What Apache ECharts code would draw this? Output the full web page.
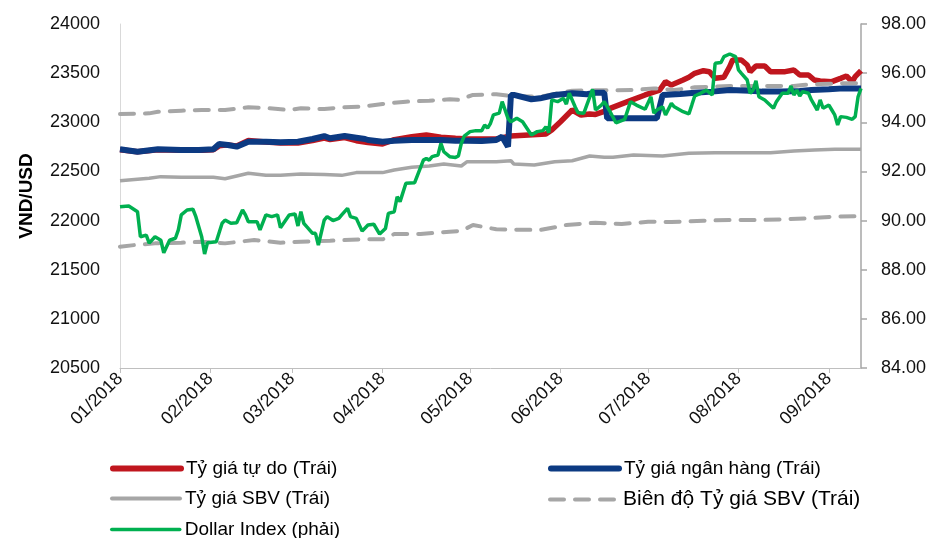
<!DOCTYPE html>
<html>
<head>
<meta charset="utf-8">
<script src="https://cdn.jsdelivr.net/npm/echarts@6/dist/echarts.min.js"></script>
<style>
  html, body { margin: 0; padding: 0; background: #ffffff; }
  #chart { width: 940px; height: 538px; }
</style>
</head>
<body>
<div id="chart"></div>
<script>
// Month starts used for the x-axis ticks and labels
const monthTicks = ['2018-01-01','2018-02-01','2018-03-01','2018-04-01','2018-05-01',
                    '2018-06-01','2018-07-01','2018-08-01','2018-09-01'];
const leftTicks = [20500, 21000, 21500, 22000, 22500, 23000, 23500, 24000];
const rightTicks = [84, 86, 88, 90, 92, 94, 96, 98];

// Free-market USD/VND rate
const freeRate = [
  ['2018-01-01',22720],['2018-01-07',22700],['2018-01-14',22720],['2018-01-22',22715],
  ['2018-01-29',22715],['2018-02-02',22720],['2018-02-04',22760],['2018-02-07',22770],
  ['2018-02-10',22760],['2018-02-14',22815],['2018-02-20',22800],['2018-02-25',22790],
  ['2018-03-03',22790],['2018-03-08',22815],['2018-03-12',22840],['2018-03-14',22825],
  ['2018-03-19',22845],['2018-03-23',22813],['2018-03-27',22793],['2018-04-01',22780],
  ['2018-04-05',22823],['2018-04-11',22853],['2018-04-16',22870],['2018-04-21',22847],
  ['2018-04-26',22837],['2018-04-30',22830],['2018-05-05',22830],['2018-05-10',22830],
  ['2018-05-15',22860],['2018-05-21',22871],['2018-05-27',22881],['2018-05-29',22921],
  ['2018-06-01',23006],['2018-06-05',23125],['2018-06-08',23074],['2018-06-11',23085],
  ['2018-06-13',23080],['2018-06-16',23110],['2018-06-18',23142],['2018-06-24',23210],
  ['2018-06-30',23278],['2018-07-05',23328],['2018-07-07',23413],['2018-07-09',23379],
  ['2018-07-13',23430],['2018-07-15',23458],['2018-07-17',23498],['2018-07-20',23525],
  ['2018-07-22',23515],['2018-07-24',23447],['2018-07-27',23458],['2018-07-29',23566],
  ['2018-07-30',23634],['2018-08-02',23634],['2018-08-04',23583],['2018-08-05',23515],
  ['2018-08-07',23573],['2018-08-10',23573],['2018-08-12',23515],['2018-08-14',23515],
  ['2018-08-17',23515],['2018-08-20',23532],['2018-08-22',23481],['2018-08-25',23481],
  ['2018-08-27',23430],['2018-08-29',23420],['2018-09-02',23413],['2018-09-05',23447],
  ['2018-09-07',23471],['2018-09-09',23413],['2018-09-10',23464],['2018-09-12',23525]
];

// Commercial bank rate
const bankRate = [
  ['2018-01-01',22725],['2018-01-07',22700],['2018-01-14',22725],['2018-01-22',22718],
  ['2018-01-28',22718],['2018-02-02',22725],['2018-02-04',22779],['2018-02-07',22769],
  ['2018-02-10',22752],['2018-02-14',22802],['2018-02-20',22802],['2018-02-25',22796],
  ['2018-03-03',22802],['2018-03-08',22830],['2018-03-12',22860],['2018-03-14',22837],
  ['2018-03-19',22860],['2018-03-23',22843],['2018-03-26',22830],['2018-03-27',22820],
  ['2018-04-01',22802],['2018-04-05',22813],['2018-04-11',22820],['2018-04-16',22820],
  ['2018-04-21',22820],['2018-04-26',22813],['2018-04-30',22813],['2018-05-05',22810],
  ['2018-05-10',22820],['2018-05-12',22853],['2018-05-13',22802],['2018-05-14',22752],
  ['2018-05-15',23278],['2018-05-16',23278],['2018-05-22',23234],['2018-05-25',23244],
  ['2018-05-30',23278],['2018-06-05',23295],['2018-06-10',23285],['2018-06-13',23300],
  ['2018-06-16',23300],['2018-06-17',23040],['2018-06-22',23040],['2018-06-30',23040],
  ['2018-07-04',23040],['2018-07-06',23278],['2018-07-12',23288],['2018-07-17',23301],
  ['2018-07-23',23312],['2018-07-29',23328],['2018-08-05',23320],['2018-08-09',23312],
  ['2018-08-16',23312],['2018-08-22',23318],['2018-08-26',23328],['2018-09-01',23335],
  ['2018-09-06',23345],['2018-09-12',23345]
];

// State Bank of Vietnam central rate
const sbvRate = [
  ['2018-01-01',22406],['2018-01-11',22430],['2018-01-15',22447],['2018-01-22',22440],
  ['2018-02-02',22440],['2018-02-06',22425],['2018-02-14',22481],['2018-02-20',22460],
  ['2018-02-25',22460],['2018-03-04',22474],['2018-03-12',22468],['2018-03-18',22460],
  ['2018-03-23',22488],['2018-04-01',22488],['2018-04-05',22514],['2018-04-11',22542],
  ['2018-04-17',22555],['2018-04-22',22576],['2018-04-28',22555],['2018-04-30',22599],
  ['2018-05-10',22599],['2018-05-15',22609],['2018-05-16',22576],['2018-05-23',22565],
  ['2018-05-30',22599],['2018-06-05',22609],['2018-06-11',22657],['2018-06-16',22644],
  ['2018-06-19',22644],['2018-06-26',22667],['2018-07-06',22657],['2018-07-15',22684],
  ['2018-07-24',22691],['2018-08-02',22691],['2018-08-12',22691],['2018-08-20',22708],
  ['2018-08-27',22718],['2018-09-03',22725],['2018-09-12',22725]
];

// Upper edge of the SBV trading band
const bandUpper = [
  ['2018-01-01',23084],['2018-01-11',23091],['2018-01-14',23108],['2018-01-22',23118],
  ['2018-01-29',23125],['2018-02-06',23125],['2018-02-14',23152],['2018-02-20',23145],
  ['2018-02-28',23125],['2018-03-04',23142],['2018-03-12',23135],['2018-03-18',23152],
  ['2018-03-25',23159],['2018-04-01',23186],['2018-04-09',23210],['2018-04-17',23220],
  ['2018-04-24',23234],['2018-04-27',23228],['2018-05-02',23278],['2018-05-10',23285],
  ['2018-05-15',23267],['2018-05-25',23261],['2018-05-30',23288],['2018-06-05',23322],
  ['2018-06-13',23325],['2018-06-26',23328],['2018-07-03',23345],['2018-07-10',23328],
  ['2018-07-17',23356],['2018-07-29',23369],['2018-08-20',23369],['2018-08-23',23379],
  ['2018-08-29',23390],['2018-09-05',23396],['2018-09-12',23396]
];

// Lower edge of the SBV trading band
const bandLower = [
  ['2018-01-01',21734],['2018-01-06',21751],['2018-01-13',21768],['2018-01-22',21775],
  ['2018-01-29',21785],['2018-02-06',21768],['2018-02-16',21802],['2018-02-25',21775],
  ['2018-03-04',21785],['2018-03-14',21795],['2018-03-25',21809],['2018-04-01',21809],
  ['2018-04-05',21863],['2018-04-14',21863],['2018-04-24',21887],['2018-04-28',21895],
  ['2018-05-02',21955],['2018-05-10',21911],['2018-05-25',21904],['2018-06-03',21955],
  ['2018-06-13',21978],['2018-06-22',21965],['2018-07-01',21988],['2018-07-09',21985],
  ['2018-07-20',21999],['2018-07-29',22006],['2018-08-09',22006],['2018-08-16',22013],
  ['2018-08-25',22023],['2018-09-03',22040],['2018-09-12',22046]
];

// US Dollar Index (right axis)
const dollarIndex = [
  ['2018-01-01',90.56],['2018-01-04',90.59],['2018-01-07',90.36],['2018-01-08',89.34],
  ['2018-01-10',89.41],['2018-01-11',89.08],['2018-01-13',89.34],['2018-01-15',89.20],
  ['2018-01-16',88.69],['2018-01-18',89.20],['2018-01-20',89.28],['2018-01-21',89.62],
  ['2018-01-22',90.23],['2018-01-24',90.43],['2018-01-26',90.46],['2018-01-27',90.16],
  ['2018-01-29',89.34],['2018-01-30',88.64],['2018-01-31',89.10],['2018-02-03',89.14],
  ['2018-02-05',89.89],['2018-02-06',90.02],['2018-02-08',89.89],['2018-02-10',89.91],
  ['2018-02-12',90.43],['2018-02-13',90.23],['2018-02-14',89.95],['2018-02-17',89.95],
  ['2018-02-18',89.62],['2018-02-20',90.23],['2018-02-22',90.16],['2018-02-24',90.23],
  ['2018-02-25',89.71],['2018-02-28',90.23],['2018-03-02',90.27],['2018-03-03',89.78],
  ['2018-03-04',90.36],['2018-03-05',89.89],['2018-03-06',89.75],['2018-03-08',89.48],
  ['2018-03-09',89.48],['2018-03-10',89.00],['2018-03-12',90.02],['2018-03-13',90.16],
  ['2018-03-15',90.00],['2018-03-17',90.09],['2018-03-18',90.23],['2018-03-20',90.50],
  ['2018-03-21',90.16],['2018-03-23',90.09],['2018-03-25',89.57],['2018-03-27',89.82],
  ['2018-03-29',89.85],['2018-03-31',89.45],['2018-04-02',89.68],['2018-04-03',90.29],
  ['2018-04-05',90.36],['2018-04-06',90.97],['2018-04-07',90.77],['2018-04-09',91.52],
  ['2018-04-12',91.54],['2018-04-15',92.46],['2018-04-16',92.53],['2018-04-17',92.46],
  ['2018-04-18',92.60],['2018-04-20',92.67],['2018-04-21',93.14],['2018-04-22',92.80],
  ['2018-04-24',92.60],['2018-04-26',92.57],['2018-04-27',92.63],['2018-04-28',93.14],
  ['2018-04-29',93.44],['2018-05-01',93.62],['2018-05-03',93.66],['2018-05-05',93.66],
  ['2018-05-06',93.89],['2018-05-07',93.76],['2018-05-08',93.96],['2018-05-09',94.30],
  ['2018-05-11',94.37],['2018-05-12',94.84],['2018-05-14',94.16],['2018-05-15',94.02],
  ['2018-05-17',94.16],['2018-05-19',94.02],['2018-05-22',93.48],['2018-05-24',93.62],
  ['2018-05-26',93.66],['2018-05-27',93.82],['2018-05-28',93.58],['2018-05-29',94.91],
  ['2018-05-31',94.84],['2018-06-02',94.98],['2018-06-03',94.74],['2018-06-04',95.18],
  ['2018-06-06',94.63],['2018-06-07',94.39],['2018-06-09',94.37],['2018-06-10',94.70],
  ['2018-06-12',95.34],['2018-06-13',94.50],['2018-06-15',94.70],['2018-06-16',94.84],
  ['2018-06-18',94.43],['2018-06-20',93.98],['2018-06-23',94.12],['2018-06-25',94.84],
  ['2018-06-27',94.70],['2018-06-30',94.53],['2018-07-02',95.04],['2018-07-03',94.37],
  ['2018-07-04',94.50],['2018-07-06',94.63],['2018-07-07',94.30],['2018-07-09',94.77],
  ['2018-07-10',94.63],['2018-07-13',94.43],['2018-07-15',94.34],['2018-07-16',94.70],
  ['2018-07-17',95.07],['2018-07-19',95.18],['2018-07-21',95.31],['2018-07-23',95.11],
  ['2018-07-24',96.40],['2018-07-26',96.43],['2018-07-27',96.67],['2018-07-29',96.78],
  ['2018-07-31',96.67],['2018-08-01',96.13],['2018-08-02',95.99],['2018-08-04',95.72],
  ['2018-08-05',95.18],['2018-08-06',95.31],['2018-08-07',95.69],['2018-08-08',95.04],
  ['2018-08-10',94.91],['2018-08-13',94.57],['2018-08-14',94.84],['2018-08-16',95.18],
  ['2018-08-18',95.18],['2018-08-19',95.48],['2018-08-20',95.11],['2018-08-21',95.31],
  ['2018-08-22',95.07],['2018-08-23',95.25],['2018-08-25',95.18],['2018-08-26',94.91],
  ['2018-08-28',94.50],['2018-08-29',94.91],['2018-08-30',94.57],['2018-09-01',94.70],
  ['2018-09-02',94.50],['2018-09-03',94.30],['2018-09-04',93.89],['2018-09-05',94.23],
  ['2018-09-07',94.20],['2018-09-09',94.12],['2018-09-10',94.23],['2018-09-11',95.04],
  ['2018-09-12',95.38]
];

const names = {
  free: 'Tỷ giá tự do (Trái)',
  bank: 'Tỷ giá ngân hàng (Trái)',
  sbv: 'Tỷ giá SBV (Trái)',
  band: 'Biên độ Tỷ giá SBV (Trái)',
  dxy: 'Dollar Index (phải)'
};

const FONT = 'Liberation Sans, Arial, sans-serif';
const toTime = s => new Date(s + 'T00:00:00').getTime();
const monthTimes = monthTicks.map(toTime);
const pad2 = n => (n < 10 ? '0' : '') + n;
// Convert [date, value] rows into [timestamp, value] for the numeric date axis
const toPoints = rows => rows.map(r => [toTime(r[0]), r[1]]);

const chart = echarts.init(document.getElementById('chart'), null, { renderer: 'canvas' });

function legendAt(name, left, top, extra) {
  return Object.assign({
    data: [name], left: left, top: top, orient: 'horizontal', padding: 0,
    itemWidth: 68, itemHeight: 14, itemGap: 0, selectedMode: false,
    itemStyle: { opacity: 0 },
    textStyle: { fontFamily: FONT, fontSize: 19, color: '#000000' }
  }, extra || {});
}

chart.setOption({
  animation: false,
  backgroundColor: '#ffffff',
  grid: { left: 120, right: 79, top: 24, bottom: 170, containLabel: false },
  xAxis: {
    type: 'value',
    min: toTime('2018-01-01'),
    max: toTime('2018-09-12'),
    axisLine: { show: true, lineStyle: { color: '#BFBFBF', width: 1 } },
    axisTick: { show: true, length: 5, customValues: monthTimes, lineStyle: { color: '#BFBFBF' } },
    axisLabel: {
      customValues: monthTimes, rotate: 45, margin: 8,
      fontFamily: FONT, fontSize: 18, color: '#111111',
      formatter: v => { const d = new Date(v); return pad2(d.getMonth() + 1) + '/' + d.getFullYear(); }
    },
    splitLine: { show: false }
  },
  yAxis: [
    {
      type: 'value', min: leftTicks[0], max: leftTicks[leftTicks.length - 1], interval: 500,
      name: 'VND/USD', nameLocation: 'middle', nameGap: 84, nameRotate: 90,
      nameTextStyle: { fontFamily: FONT, fontSize: 19, fontWeight: 'bold', color: '#000000' },
      axisLine: { show: true, lineStyle: { color: '#D9D9D9', width: 1 } },
      axisTick: { show: false },
      axisLabel: { margin: 20, fontFamily: FONT, fontSize: 18, color: '#111111', formatter: v => String(v) },
      splitLine: { show: false }
    },
    {
      type: 'value', min: rightTicks[0], max: rightTicks[rightTicks.length - 1], interval: 2,
      position: 'right',
      axisLine: { show: true, lineStyle: { color: '#A6A6A6', width: 1.5 } },
      axisTick: { show: true, inside: false, length: 6, lineStyle: { color: '#A6A6A6', width: 1.5 } },
      axisLabel: { margin: 20, fontFamily: FONT, fontSize: 18, color: '#111111', formatter: v => v.toFixed(2) },
      splitLine: { show: false }
    }
  ],
  legend: [
    legendAt(names.free, 110, 459, { lineStyle: { width: 6, cap: 'round' } }),
    legendAt(names.bank, 548, 459, { lineStyle: { width: 6, cap: 'round' } }),
    legendAt(names.sbv, 110, 489, { lineStyle: { width: 4, cap: 'round' } }),
    legendAt(names.band, 548, 489, { lineStyle: { width: 4 }, textStyle: { fontFamily: FONT, fontSize: 21, color: '#000000' } }),
    legendAt(names.dxy, 110, 520, { lineStyle: { width: 3.5, cap: 'round' } })
  ],
  series: [
    { name: names.free, type: 'line', yAxisIndex: 0, data: toPoints(freeRate), symbol: 'none', z: 2,
      lineStyle: { color: '#C0161E', width: 5.5 }, itemStyle: { color: '#C0161E' } },
    { name: names.bank, type: 'line', yAxisIndex: 0, data: toPoints(bankRate), symbol: 'none', z: 3,
      lineStyle: { color: '#0C3A82', width: 6 }, itemStyle: { color: '#0C3A82' } },
    { name: names.sbv, type: 'line', yAxisIndex: 0, data: toPoints(sbvRate), symbol: 'none', z: 2,
      lineStyle: { color: '#A6A6A6', width: 3.5 }, itemStyle: { color: '#A6A6A6' } },
    { name: names.band, type: 'line', yAxisIndex: 0, data: toPoints(bandUpper), symbol: 'none', z: 2,
      lineStyle: { color: '#A6A6A6', width: 4, type: [14, 11], cap: 'round' }, itemStyle: { color: '#A6A6A6' } },
    { name: names.band, type: 'line', yAxisIndex: 0, data: toPoints(bandLower), symbol: 'none', z: 2,
      lineStyle: { color: '#A6A6A6', width: 4, type: [14, 11], cap: 'round' }, itemStyle: { color: '#A6A6A6' } },
    { name: names.dxy, type: 'line', yAxisIndex: 1, data: toPoints(dollarIndex), symbol: 'none', z: 4,
      lineStyle: { color: '#00B050', width: 3.5 }, itemStyle: { color: '#00B050' } }
  ]
});
</script>
</body>
</html>
